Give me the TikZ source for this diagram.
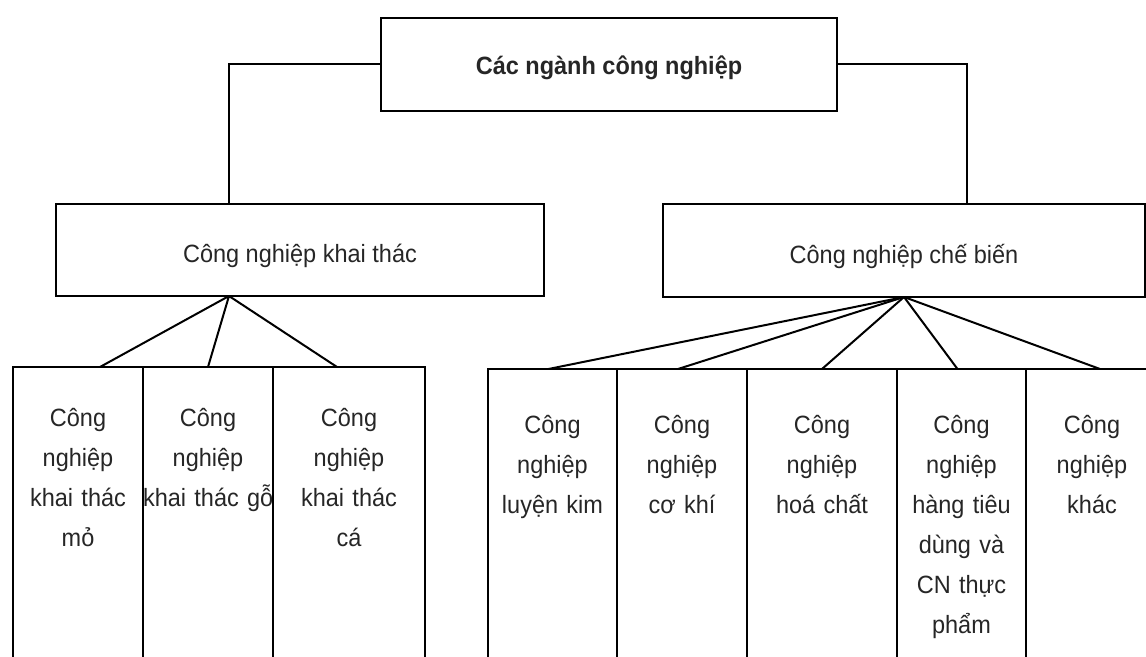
\documentclass[tikz,border=0pt]{standalone}
\usepackage{fontspec}
\setmainfont{Liberation Sans}[FakeStretch=0.94]
\usetikzlibrary{positioning}

\begin{document}
\begin{tikzpicture}[x=0.5pt, y=-0.5pt, line width=1pt,
  box/.style={draw, rectangle, inner sep=0pt, outer sep=0pt, text=black!85,
    font=\fontsize{12.5}{20}\selectfont},
  cell/.style={box, anchor=north west, align=center, text width=#1,
    text height=30pt, text depth=150pt}]
\useasboundingbox (0,0) rectangle (1146,657);
\clip (0,0) rectangle (1146,657);

\node[box, minimum width=228pt, minimum height=46.5pt, text height=10pt, text depth=0pt,
  font=\fontsize{12.5}{20}\selectfont\bfseries] (nganh) at (609,64.5) {Các ngành công nghiệp};
\node[box, minimum width=244pt, minimum height=46pt, text height=13pt, text depth=0pt] (khai thac) at (300,250) {Công nghiệp khai thác};
\node[box, minimum width=241pt, minimum height=46.5pt, text height=13pt, text depth=0pt] (che bien) at (904,250.5) {Công nghiệp chế biến};

\node[cell=65pt] (kt mo) at (13,367) {Công\\nghiệp\\khai thác\\mỏ};
\node[cell=65pt] (kt go) at (kt mo.north east) {Công\\nghiệp\\\mbox{khai thác gỗ}};
\node[cell=76pt] (kt ca) at (kt go.north east) {Công\\nghiệp\\khai thác\\cá};

\node[cell=64.5pt, text height=32.5pt] (cb lk) at (488,369) {Công\\nghiệp\\luyện kim};
\node[cell=65pt, text height=32.5pt] (cb ck) at (cb lk.north east) {Công\\nghiệp\\cơ khí};
\node[cell=75pt, text height=32.5pt] (cb hc) at (cb ck.north east) {Công\\nghiệp\\hoá chất};
\node[cell=64.5pt, text height=32.5pt] (cb ht) at (cb hc.north east) {Công\\nghiệp\\hàng tiêu\\dùng và\\CN thực\\phẩm};
\node[cell=66pt, text height=32.5pt] (cb kh) at (cb ht.north east) {Công\\nghiệp\\khác};

\draw (nganh.west) -| ([xshift=-35.5pt]khai thac.north);
\draw (nganh.east) -| ([xshift=31.5pt]che bien.north);

%% branches
\coordinate (kt apex) at ([xshift=-35.5pt]khai thac.south);
\draw (kt apex) -- ([xshift=11pt]kt mo.north)
      (kt apex) -- (kt go.north)
      (kt apex) -- ([xshift=-6pt]kt ca.north);
\foreach \c/\s in {lk/-2pt, ck/-2pt, hc/0pt, ht/-2pt, kh/4pt}
  \draw (che bien.south) -- ([xshift=\s]cb \c.north);
\end{tikzpicture}
\end{document}
